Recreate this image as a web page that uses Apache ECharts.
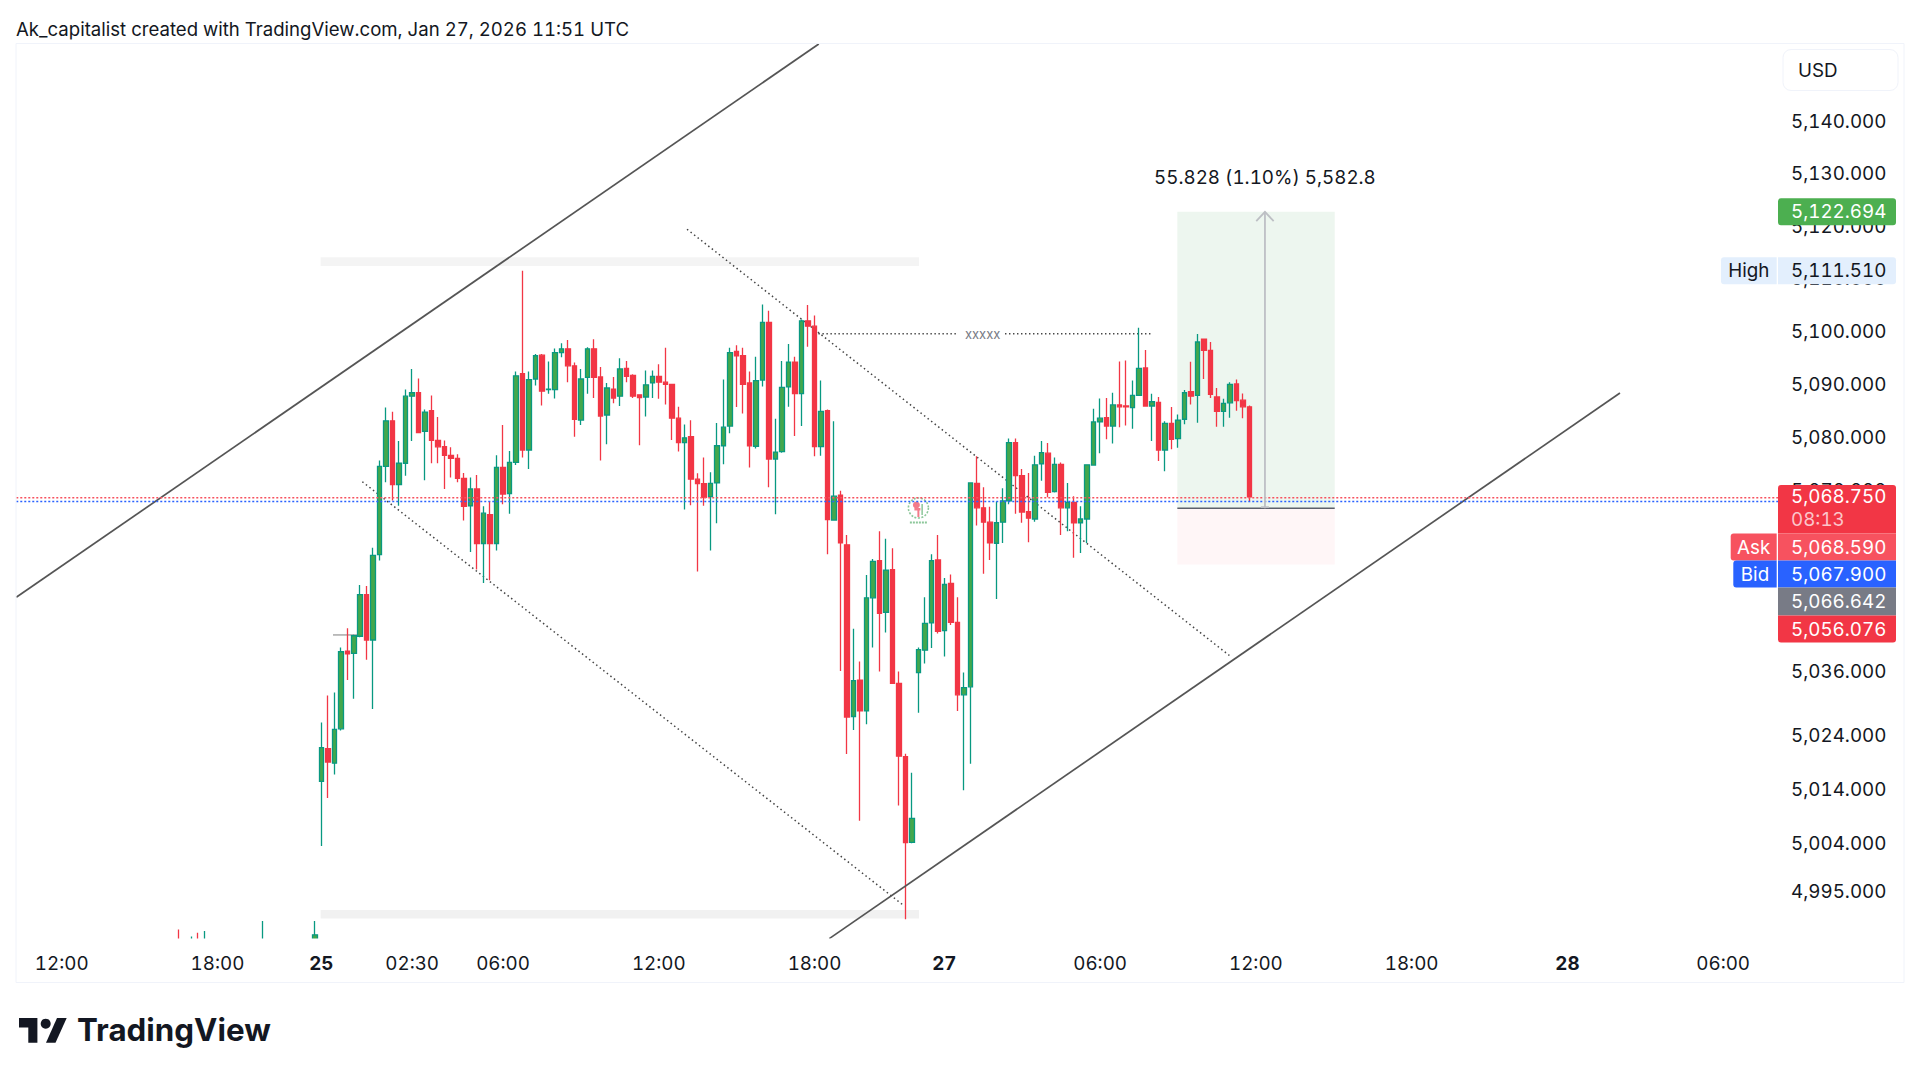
<!DOCTYPE html>
<html>
<head>
<meta charset="utf-8">
<script src="https://cdn.jsdelivr.net/npm/echarts@6/dist/echarts.min.js"></script>
<style>html,body{margin:0;padding:0;background:#fff}#c{width:1920px;height:1079px}
svg text{font-feature-settings:"tnum" 1 !important;font-variant-numeric:tabular-nums !important}</style>
</head>
<body>
<div id="c"></div>
<script>
var slotCount = 272;
var tickSlots = [7,31,47,61,75,99,123,143,167,191,215,239,263];
var tickTexts = ['12:00','18:00','25','02:30','06:00','12:00','18:00','27','06:00','12:00','18:00','28','06:00'];
var boldTicks = ['25','27','28'];
var priceTicks = [5140,5130,5120,5110,5100,5090,5080,5070,5036,5024,5014,5004,4995];

var earlySlots  = [25,27,28,29,38,46];
var earlyOpens  = [4985,4984,4985,4984,4984,4984.5];
var earlyCloses = [4984,4985,4984,4985,4985,4987];
var earlyLows   = [4983,4983,4983,4983,4983,4984];
var earlyHighs  = [4988,4986.7,4987.4,4987.7,4989.55,4989.55];

var mainFirstSlot = 47;
var opens = [
5015.5,5021.6,5018.9,5025.3,5039.8,5039.4,5042.6,5050.4,5041.9,5057.9,
5074.5,5083.1,5071.1,5075.1,5087.75,5088.4,5081.1,5085,5079.4,5078.25,
5076.6,5076,5072.25,5067.1,5070.25,5060,5065.4,5060,5074.3,5069.4,
5075.25,5092,5077.6,5091,5095.5,5089,5089,5096,5096.7,5093.5,
5083.25,5091.3,5096.7,5091.4,5084.2,5089.1,5087.75,5093,5091.7,5088,
5087.6,5090.25,5091.5,5090.4,5090,5083.6,5079,5080.1,5072.1,5071.25,
5068.8,5071.4,5078.4,5082.1,5096.2,5095.4,5090.25,5078.3,5090.8,5101.7,
5075.9,5077.3,5089.5,5094.2,5088.25,5102,5101,5078.25,5085,5064.4,
5069.1,5059.75,5027.6,5034.4,5028.65,5049.8,5056.8,5047.1,5055.1,5033.8,
5020.1,5004.15,5035.8,5040,5045.1,5056.9,5043.65,5052.5,5045.2,5031.65,
5033.15,5071.3,5066.7,5064,5060.05,5064,5068,5079,5072.75,5066,
5064.6,5075,5077,5069.75,5074.9,5066.7,5067.75,5063.9,5064.6,5074.75,
5082.9,5083.7,5082.1,5086.1,5085.9,5085.6,5087.9,5093.1,5085.9,5086.6,
5077.6,5082.6,5079.75,5083.4,5088.6,5087.9,5098.55,5096.4,5087.6,5084.9,
5086.5,5090.05,5087,5085.75];
var closes = [
5021.8,5019.1,5025.2,5039.7,5039.3,5042.7,5050.4,5041.9,5057.75,5074.5,
5083.1,5071.1,5075.1,5087.75,5088.4,5080.9,5084.75,5079.4,5078.2,5076.6,
5076,5072.25,5067,5070.25,5060,5065.7,5060,5074.3,5069.3,5075.25,
5091.6,5077.6,5090.9,5095.4,5088.7,5089.1,5096,5096.7,5093.5,5083.4,
5091,5096.7,5091.3,5084,5089.3,5087.4,5092.9,5091.5,5087.75,5087.5,
5089.9,5091.5,5090.4,5090,5083.6,5079,5079.9,5072.1,5071.25,5068.7,
5071.3,5078.4,5081.9,5096,5095.4,5090,5078.4,5090.7,5101.7,5075.9,
5077.2,5089.4,5094.2,5088.25,5102,5101,5078.25,5084.9,5064.5,5068.9,
5060.1,5027.5,5034.3,5028.65,5049.8,5056.65,5046.9,5055,5033.8,5020.2,
5004.1,5008.6,5040.1,5045,5056.8,5043.5,5052.3,5045.2,5031.65,5033,
5071.4,5066.7,5064,5060.1,5063.9,5068,5079,5072.75,5065.9,5064.75,
5074.8,5077.1,5069.6,5074.9,5066.7,5067.75,5063.9,5064.6,5074.8,5082.9,
5083.6,5082.1,5086.1,5085.75,5085.75,5087.9,5093,5085.9,5086.7,5077.6,
5082.6,5079.6,5083.25,5088.4,5087.75,5098,5096.4,5088.1,5084.9,5086.4,
5090,5086.9,5085.75,5068.75];
var highs = [
5026.5,5031.5,5032.1,5040.5,5044.1,5042.9,5052.2,5052,5059.2,5075.6,
5085.6,5084.8,5079.3,5089,5092.9,5091.1,5085.25,5087.9,5083.8,5079.4,
5078.1,5076.8,5073.25,5072.4,5072.9,5067,5068,5076.6,5082.3,5077.4,
5092.4,5111.51,5092.4,5095.75,5095.75,5094.3,5096.75,5097.75,5098.4,5094.1,
5092.9,5097,5098.5,5093.25,5090.25,5091.4,5094.9,5094.4,5091.9,5088.1,
5092.6,5092.6,5093.8,5096.9,5090.1,5085.75,5082.4,5083.2,5073.2,5076.2,
5073.4,5082.7,5090.9,5096.9,5097.4,5096.9,5092.4,5095.2,5105.1,5103.9,
5083.5,5094.4,5097.6,5095.2,5102.25,5105,5103,5090.7,5085.25,5083,
5069.9,5061.6,5044,5037.9,5054.1,5057.1,5062.3,5060.9,5059.1,5036,
5020.65,5017.1,5040.5,5049.9,5058,5061.6,5053.5,5054.2,5049.9,5035.84,
5071.5,5076.4,5070.6,5066.9,5067.9,5070.4,5079.75,5079.75,5074,5073.25,
5076.5,5079.3,5078.9,5076.2,5075.25,5071.4,5068.9,5067,5074.9,5085.4,
5087.3,5087.4,5088.4,5094.3,5094.5,5090.7,5100.7,5096.5,5088.2,5087.6,
5083,5085.7,5084.3,5088.9,5094.25,5099.5,5098.6,5098,5089.3,5087.25,
5090.4,5090.9,5088.25,5086];
var lows = [
5003.5,5012.4,5016.8,5025,5034.4,5030.9,5042.4,5038.2,5029,5056.8,
5071.5,5068.1,5067.1,5072.75,5079.3,5080.75,5071.9,5075.1,5075.1,5070.25,
5072.4,5071.5,5064.3,5058.4,5055.1,5052.6,5053.1,5058.7,5067.4,5065.6,
5074.75,5076.2,5074,5089.75,5086,5088.2,5087.3,5095.1,5090.4,5080.1,
5082.3,5088.2,5087.4,5075.6,5078.7,5086.4,5085.9,5090.4,5087.4,5078.5,
5083.9,5087.4,5087.25,5086.2,5079.5,5077.3,5066.4,5067.2,5054.75,5067.1,
5058.7,5063.8,5074.9,5080.75,5085.7,5084.5,5074.3,5077.9,5089.6,5070.6,
5065.5,5077.1,5085.75,5080.25,5082.1,5097.1,5076.4,5076.5,5058,5064.3,
5036.1,5020.6,5025.1,5008.2,5026.15,5040.5,5036,5043.3,5033.7,5011,
4989.9,5004,5028.3,5037.5,5040.4,5043.1,5038.8,5044.7,5028.65,5013.84,
5018.8,5063.4,5054.3,5056.9,5049.6,5060.1,5067.4,5065.6,5063.9,5060.25,
5064.1,5071.8,5068.7,5069.6,5061.6,5062.3,5057.3,5058.2,5060.1,5074.75,
5077,5079.6,5078.8,5081.9,5082.2,5081.6,5087.9,5085.9,5079.3,5075.5,
5073.6,5077.75,5078,5082.45,5086.2,5082.75,5091,5087.4,5082,5082,
5083.7,5085,5083.6,5068];

var askPrice = 5068.59, bidPrice = 5067.9;
var entryPrice = 5066.642, targetPrice = 5122.694, stopPrice = 5056.076;
var upperTrend = [[0,5049.9],[123.65,5154.72]];
var lowerTrend = [[125.27,4986.31],[247.1,5088.35]];
var dottedA = [[53.32,5071.62],[136.68,4992.5]];
var dottedB = [[103.35,5119.39],[186.92,5039.0]];
var levelLeft = [[123.6,5099.57],[145.1,5099.57]];
var levelRight = [[152.35,5099.57],[174.95,5099.57]];
var shortMark = [[48.8,5042.85],[52.65,5042.85]];
var entryLine = [[178.9,entryPrice],[203.15,entryPrice]];
var askLine = [[0,askPrice],[271.5,askPrice]];
var bidLine = [[0,bidPrice],[271.5,bidPrice]];
var zones = [
  [46.9,139.1,5114.05,5112.4,'#F4F4F4'],
  [46.9,139.1,4991.6,4990.05,'#F1F1F1'],
  [178.9,203.15,targetPrice,entryPrice,'#EDF6EF'],
  [178.9,203.15,entryPrice,stopPrice,'#FFF6F7']
];
var FONT = 'Inter, "Noto Sans", sans-serif';
var INK = '#131722';
var FS = 18.8;

var categories = [];
for (var s = 0; s < slotCount; s++) {
  var at = tickSlots.indexOf(s);
  categories.push(at >= 0 ? tickTexts[at] : 'b' + s);
}
var candles = [];
earlySlots.forEach(function (sl, i) {
  candles.push([sl, earlyOpens[i], earlyCloses[i], earlyLows[i], earlyHighs[i]]);
});
opens.forEach(function (o, i) {
  candles.push([mainFirstSlot + i, o, closes[i], lows[i], highs[i]]);
});

function lineSeries(data, color, width, type, z) {
  return {
    type: 'line', xAxisIndex: 1, yAxisIndex: 0, data: data, symbol: 'none', silent: true,
    lineStyle: { color: color, width: width, type: type }, z: z, animation: false
  };
}

function pill(x, y, w, h, fill, r, text, textX, align, textFill) {
  var items = [{
    type: 'rect', z: 100, silent: true,
    shape: { x: x, y: y, width: w, height: h, r: r },
    style: { fill: fill }
  }];
  if (text) items.push({
    type: 'text', z: 101, silent: true,
    style: { text: text, x: textX, y: y + h / 2, fill: textFill, font: FS + 'px ' + FONT, align: align, verticalAlign: 'middle' }
  });
  return items;
}

var graphics = [
  { type: 'rect', z: 50, silent: true, shape: { x: 16.5, y: 938.6, width: 1761, height: 43.4 }, style: { fill: '#fff' } },
  { type: 'rect', z: 60, silent: true, shape: { x: 16, y: 43.5, width: 1888, height: 939 }, style: { fill: 'none', stroke: '#F0F3FA', lineWidth: 1 } },
  { type: 'text', silent: true, style: { text: 'Ak_capitalist created with TradingView.com, Jan 27, 2026 11:51 UTC', x: 16, y: 28.5, fill: INK, font: '18.6px ' + FONT, align: 'left', verticalAlign: 'middle' } },
  { type: 'rect', silent: true, z: 70, shape: { x: 1783, y: 49.5, width: 115, height: 41, r: 8 }, style: { fill: '#fff', stroke: '#F0F3FA', lineWidth: 1 } },
  { type: 'text', silent: true, z: 71, style: { text: 'USD', x: 1798, y: 70.5, fill: INK, font: FS + 'px ' + FONT, align: 'left', verticalAlign: 'middle' } },
  { type: 'polygon', silent: true, shape: { points: [[19,1018],[37.4,1018],[37.4,1042.7],[28.3,1042.7],[28.3,1027.6],[19,1027.6]] }, style: { fill: INK } },
  { type: 'polygon', silent: true, shape: { points: [[46,1042.7],[57,1018],[66.7,1018],[55.5,1042.7]] }, style: { fill: INK } },
  { type: 'circle', silent: true, shape: { cx: 45.7, cy: 1023.7, r: 5 }, style: { fill: INK } },
  { type: 'text', silent: true, style: { text: 'TradingView', x: 77, y: 1030, fill: INK, font: '700 31.3px ' + FONT, align: 'left', verticalAlign: 'middle' } }
].concat(
  pill(1778, 198.3, 118, 27, '#4CAF50', [3,3,3,3], '5,122.694', 1791, 'left', '#fff'),
  pill(1721, 257.3, 55.7, 27, '#E3EFFD', [3,0,0,3], 'High', 1748.8, 'center', INK),
  pill(1778, 257.3, 118, 27, '#E3EFFD', [0,3,3,0], '5,111.510', 1791, 'left', INK),
  pill(1778, 485, 118, 48.5, '#F23645', [3,3,0,0], '', 0, 'left', '#fff'),
  pill(1730.7, 533.5, 46, 27, '#F7525F', [3,0,0,3], 'Ask', 1753.7, 'center', '#fff'),
  pill(1778, 533.5, 118, 27, '#F7525F', 0, '5,068.590', 1791, 'left', '#fff'),
  pill(1733.3, 560.5, 43.4, 27, '#2962FF', [3,0,0,3], 'Bid', 1755, 'center', '#fff'),
  pill(1778, 560.5, 118, 27, '#2962FF', 0, '5,067.900', 1791, 'left', '#fff'),
  pill(1778, 587.5, 118, 28, '#787B86', 0, '5,066.642', 1791, 'left', '#fff'),
  pill(1778, 615.5, 118, 27, '#F23645', [0,0,3,3], '5,056.076', 1791, 'left', '#fff'),
  [
    { type: 'text', z: 101, silent: true, style: { text: '5,068.750', x: 1791, y: 496.5, fill: '#fff', font: FS + 'px ' + FONT, align: 'left', verticalAlign: 'middle' } },
    { type: 'text', z: 101, silent: true, style: { text: '08:13', x: 1791, y: 519, fill: 'rgba(255,255,255,0.72)', font: FS + 'px ' + FONT, align: 'left', verticalAlign: 'middle' } }
  ]
);

var arrowSlot = 192.4, annotationSlot = 192.4, annotationPrice = 5129.3;
var levelTextSlot = 148.9;
var badgeSlot = 139, badgePrice = 5066.3;

var option = {
  animation: false,
  backgroundColor: '#fff',
  grid: { left: 13.03, top: 44, width: 1765.28, height: 894.6, containLabel: false },
  xAxis: [
    {
      type: 'category', data: categories, boundaryGap: true, position: 'bottom', z: 80,
      axisLine: { show: false }, axisTick: { show: false }, splitLine: { show: false },
      axisLabel: {
        interval: function (i) { return tickSlots.indexOf(i) >= 0; },
        hideOverlap: false, margin: 15, color: INK, fontFamily: FONT, fontSize: FS,
        formatter: function (v) { return boldTicks.indexOf(v) >= 0 ? '{b|' + v + '}' : v; },
        rich: { b: { fontWeight: 700, fontFamily: FONT, fontSize: FS, color: INK } }
      }
    },
    { type: 'value', min: -0.5, max: 271.5, show: false }
  ],
  yAxis: [{
    type: 'log', logBase: 10, min: 4986.31, max: 5154.72, position: 'right',
    axisLine: { show: false }, axisTick: { show: false }, splitLine: { show: false }, minorSplitLine: { show: false },
    axisLabel: {
      customValues: priceTicks, margin: 12.8, color: INK, fontFamily: FONT, fontSize: FS, hideOverlap: false,
      formatter: function (v) {
        return Number(v).toLocaleString('en-US', { minimumFractionDigits: 3, maximumFractionDigits: 3 });
      }
    }
  }],
  graphic: graphics,
  series: [
    {
      type: 'custom', xAxisIndex: 1, yAxisIndex: 0, z: 1, silent: true, data: zones,
      encode: { x: [0, 1], y: [2, 3] }, clip: true,
      renderItem: function (p, api) {
        var a = api.coord([api.value(0), api.value(2)]);
        var b = api.coord([api.value(1), api.value(3)]);
        return { type: 'rect', shape: { x: a[0], y: a[1], width: b[0] - a[0], height: b[1] - a[1] }, style: { fill: zones[p.dataIndex][4] } };
      }
    },
    lineSeries(shortMark, '#A9A9A9', 1.5, 'solid', 2),
    lineSeries(dottedA, '#444', 1.5, [1.5, 3], 2),
    lineSeries(dottedB, '#444', 1.5, [1.5, 3], 2),
    lineSeries(levelLeft, '#444', 1.4, [1.4, 2.6], 2),
    lineSeries(levelRight, '#444', 1.4, [1.4, 2.6], 2),
    {
      type: 'candlestick', xAxisIndex: 0, yAxisIndex: 0, data: candles, z: 3, silent: true,
      encode: { x: 0, y: [1, 2, 3, 4] }, barWidth: 5,
      itemStyle: { color: '#43A74C', color0: '#F23645', borderColor: '#089981', borderColor0: '#F23645', borderWidth: 1.3 }
    },
    lineSeries(upperTrend, '#555555', 1.7, 'solid', 4),
    lineSeries(lowerTrend, '#555555', 1.7, 'solid', 4),
    lineSeries(entryLine, '#5D606B', 1.5, 'solid', 4),
    lineSeries(askLine, '#F7525F', 1.6, [2, 2], 5),
    lineSeries(bidLine, '#2962FF', 1.6, [2, 2], 5),
    {
      type: 'custom', xAxisIndex: 1, yAxisIndex: 0, z: 6, silent: true, data: [[arrowSlot, targetPrice, entryPrice]],
      encode: { x: 0, y: [1, 2] },
      renderItem: function (p, api) {
        var t = api.coord([api.value(0), api.value(1)]);
        var e = api.coord([api.value(0), api.value(2)]);
        var st = { stroke: '#BDBFC4', lineWidth: 1.8, fill: 'none' };
        return { type: 'group', children: [
          { type: 'line', shape: { x1: t[0], y1: t[1], x2: e[0], y2: e[1] }, style: st },
          { type: 'polyline', shape: { points: [[t[0] - 8.7, t[1] + 9.3], [t[0], t[1]], [t[0] + 8.7, t[1] + 9.3]] }, style: st },
          { type: 'line', shape: { x1: e[0] - 4, y1: e[1] - 1, x2: e[0] + 4, y2: e[1] - 1 }, style: st }
        ] };
      }
    },
    {
      type: 'custom', xAxisIndex: 1, yAxisIndex: 0, z: 6, silent: true, data: [[annotationSlot, annotationPrice]],
      encode: { x: 0, y: 1 },
      renderItem: function (p, api) {
        var c = api.coord([api.value(0), api.value(1)]);
        return { type: 'text', style: { text: '55.828 (1.10%) 5,582.8', x: c[0], y: c[1], fill: INK, font: FS + 'px ' + FONT, align: 'center', verticalAlign: 'middle' } };
      }
    },
    {
      type: 'custom', xAxisIndex: 1, yAxisIndex: 0, z: 6, silent: true, data: [[levelTextSlot, 5099.57]],
      encode: { x: 0, y: 1 },
      renderItem: function (p, api) {
        var c = api.coord([api.value(0), api.value(1)]);
        return { type: 'text', style: { text: 'xxxxx', x: c[0], y: c[1], fill: '#787B86', font: '13px ' + FONT, align: 'center', verticalAlign: 'middle' } };
      }
    },
    {
      type: 'custom', xAxisIndex: 1, yAxisIndex: 0, z: 4, silent: true, data: [[badgeSlot, badgePrice]],
      encode: { x: 0, y: 1 },
      renderItem: function (p, api) {
        var c = api.coord([api.value(0), api.value(1)]);
        var g = '#8CC79A', r = '#F37B8A';
        return { type: 'group', x: c[0], y: c[1], children: [
          { type: 'circle', shape: { cx: 0, cy: -2, r: 10 }, style: { fill: 'none', stroke: g, lineWidth: 1.6, lineDash: [2, 1.5] } },
          { type: 'circle', shape: { cx: -2, cy: -5, r: 3.5 }, style: { fill: r } },
          { type: 'rect', shape: { x: -4, y: -2, width: 6, height: 2.5 }, style: { fill: r } },
          { type: 'rect', shape: { x: -1, y: -1, width: 2, height: 8 }, style: { fill: r } },
          { type: 'rect', shape: { x: 3, y: -6, width: 1.5, height: 11 }, style: { fill: g } },
          { type: 'line', shape: { x1: -8.5, y1: 12.5, x2: 8.5, y2: 12.5 }, style: { stroke: g, lineWidth: 2.2, lineDash: [2, 1] } }
        ] };
      }
    }
  ]
};
echarts.init(document.getElementById('c'), null, { renderer: 'svg' }).setOption(option);
</script>
</body>
</html>
